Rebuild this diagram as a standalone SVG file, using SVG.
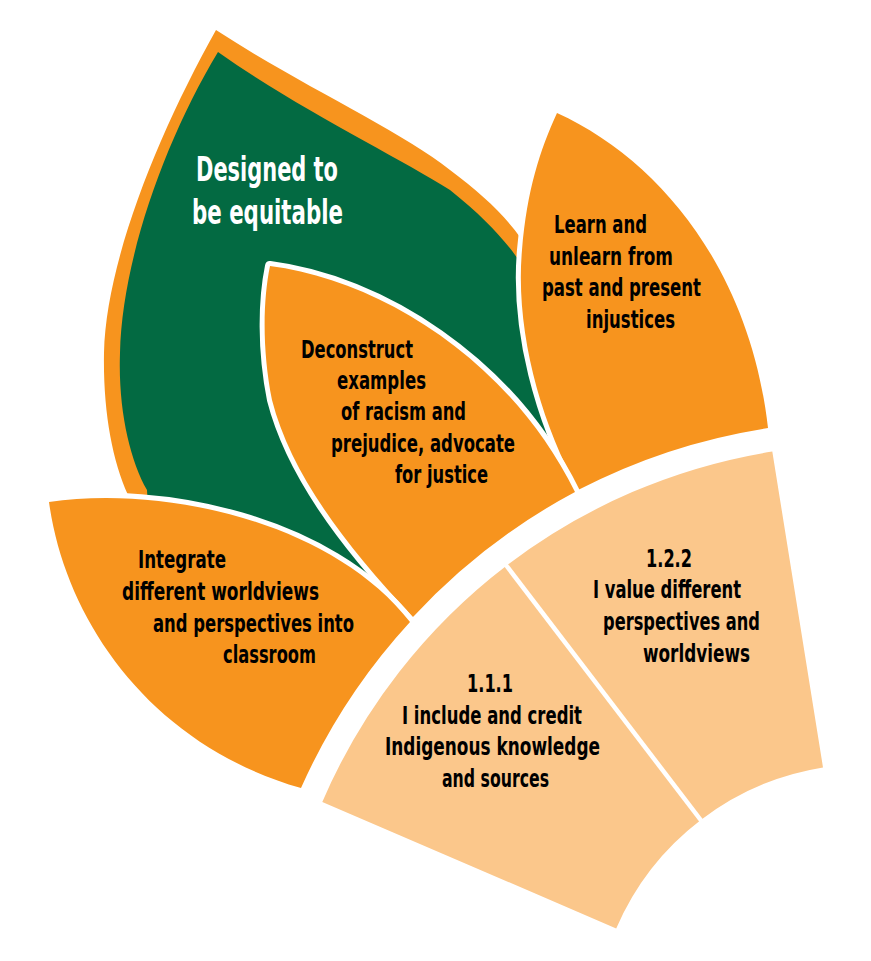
<svg xmlns="http://www.w3.org/2000/svg" width="871" height="961" viewBox="0 0 871 961">
<style>
.leaf-outer{fill:#F7941E}
.leaf-inner{fill:#036A42}
.petal{fill:#F7941E;stroke:#FFFFFF;stroke-width:10;paint-order:stroke;stroke-linejoin:round}
.seg{fill:#FBC78B}
.sep{stroke:#FFFFFF;stroke-width:4.5;fill:none}
text{font-family:"Liberation Sans Narrow","DejaVu Sans Condensed","Liberation Sans",Arial,sans-serif;font-stretch:condensed;font-weight:bold;font-size:25px;fill:#000000}
.title{fill:#FFFFFF;font-size:34px}
</style>
<rect width="871" height="961" fill="#FFFFFF"/>

<g id="designed-to-be-equitable">
  <path class="leaf-outer" d="M216,30 C300,85 400,130 450,170 C490,200 515,225 535,260 L578,490 A616 616 0 0 0 410,622 L140,545 L128,495 C112,460 103,410 104,353 C106,260 160,130 216,30 Z"/>
  <path class="leaf-inner" d="M218,52 C300,110 400,158 450,190 C485,218 505,240 520,262 L540,300 L578,490 A616 616 0 0 0 410,622 L150,545 L147,490 C130,460 118,410 120,353 C122,260 165,140 218,52 Z"/>
  <text class="title" x="196" y="181" textLength="142" lengthAdjust="spacingAndGlyphs">Designed to</text>
  <text class="title" x="192" y="224" textLength="151" lengthAdjust="spacingAndGlyphs">be equitable</text>
</g>

<g id="learn-and-unlearn">
  <path class="petal" d="M557,113 C660,160 750,270 768,428 A616 616 0 0 0 578,490 C540,420 515,330 522,250 C527,190 540,150 557,113 Z"/>
  <text x="554" y="233" textLength="93" lengthAdjust="spacingAndGlyphs">Learn and</text>
  <text x="549" y="265" textLength="124" lengthAdjust="spacingAndGlyphs">unlearn from</text>
  <text x="542" y="296" textLength="159" lengthAdjust="spacingAndGlyphs">past and present</text>
  <text x="586" y="328" textLength="89" lengthAdjust="spacingAndGlyphs">injustices</text>
</g>

<g id="deconstruct-examples">
  <path class="petal" d="M270,266 C380,280 510,360 575,492 A616 616 0 0 0 413,617 C340,540 290,470 272,400 C262,350 263,300 270,266 Z"/>
  <text x="301" y="358" textLength="112" lengthAdjust="spacingAndGlyphs">Deconstruct</text>
  <text x="337" y="389" textLength="89" lengthAdjust="spacingAndGlyphs">examples</text>
  <text x="341" y="420" textLength="125" lengthAdjust="spacingAndGlyphs">of racism and</text>
  <text x="331" y="452" textLength="184" lengthAdjust="spacingAndGlyphs">prejudice, advocate</text>
  <text x="395" y="483" textLength="93" lengthAdjust="spacingAndGlyphs">for justice</text>
</g>

<g id="integrate-worldviews">
  <path class="petal" d="M49,502 C160,485 330,520 410,622 A616 616 0 0 0 301,788 C150,745 65,620 49,502 Z"/>
  <text x="138" y="568" textLength="88" lengthAdjust="spacingAndGlyphs">Integrate</text>
  <text x="122" y="600" textLength="197" lengthAdjust="spacingAndGlyphs">different worldviews</text>
  <text x="153" y="632" textLength="201" lengthAdjust="spacingAndGlyphs">and perspectives into</text>
  <text x="223" y="663" textLength="93" lengthAdjust="spacingAndGlyphs">classroom</text>
</g>

<g id="indicator-1-1-1">
  <path class="seg" d="M322.3,801.9 A592 592 0 0 1 506.4,565.7 L700.8,819.9 A272 272 0 0 0 616.2,928.4 Z"/>
  <text x="467" y="692" textLength="46" lengthAdjust="spacingAndGlyphs">1.1.1</text>
  <text x="402" y="724" textLength="180" lengthAdjust="spacingAndGlyphs">I include and credit</text>
  <text x="385" y="755" textLength="215" lengthAdjust="spacingAndGlyphs">Indigenous knowledge</text>
  <text x="442" y="787" textLength="107" lengthAdjust="spacingAndGlyphs">and sources</text>
</g>

<g id="indicator-1-2-2">
  <path class="seg" d="M506.4,565.7 A592 592 0 0 1 772.3,451.5 L823,767.4 A272 272 0 0 0 700.8,819.9 Z"/>
  <text x="646" y="567" textLength="46" lengthAdjust="spacingAndGlyphs">1.2.2</text>
  <text x="593" y="598" textLength="148" lengthAdjust="spacingAndGlyphs">I value different</text>
  <text x="603" y="630" textLength="157" lengthAdjust="spacingAndGlyphs">perspectives and</text>
  <text x="643" y="662" textLength="107" lengthAdjust="spacingAndGlyphs">worldviews</text>
</g>

<g id="connectors">
  <line class="sep" x1="504" y1="562.5" x2="703" y2="823"/>
</g>
</svg>
